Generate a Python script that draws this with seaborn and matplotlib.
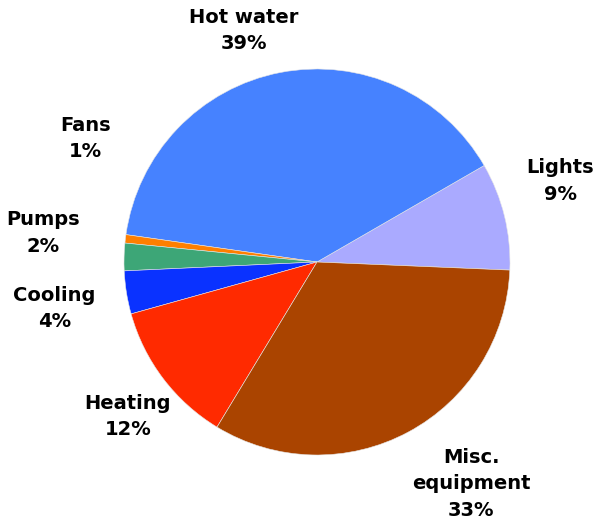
import matplotlib
matplotlib.use("Agg")
import matplotlib.pyplot as plt
import seaborn as sns

# data (counterclockwise from the right)
categories = ["Lights", "Hot water", "Fans", "Pumps", "Cooling", "Heating", "Misc.\nequipment"]
shares = [9.0, 39.4, 0.7, 2.3, 3.6, 12.0, 33.0]
pct_labels = ["9%", "39%", "1%", "2%", "4%", "12%", "33%"]
colors = ["#AAAAFF", "#4682FF", "#FF7F00", "#3DA677", "#0A32FF", "#FF2A00", "#AA4400"]

# label anchor points (data units, pie radius = 1)
label_pos = [(1.26, 0.42), (-0.38, 1.20), (-1.20, 0.64), (-1.42, 0.15),
             (-1.36, -0.24), (-0.98, -0.80), (0.80, -1.15)]

sns.set_theme(style="white")
plt.rcParams["font.family"] = ["DejaVu Sans"]

fig = plt.figure(figsize=(6.02, 5.31), dpi=100)
ax = fig.add_axes([124 / 602, 76 / 531, 386 / 602, 386 / 531])

ax.pie(shares, colors=colors, startangle=-2.4, counterclock=True,
       wedgeprops=dict(edgecolor="#e6e6e6", linewidth=0.4))
ax.set_xlim(-1, 1)
ax.set_ylim(-1, 1)
ax.set_aspect("equal")
ax.axis("off")

for name, pct, (x, y) in zip(categories, pct_labels, label_pos):
    ax.text(x, y, f"{name}\n{pct}", ha="center", va="center",
            fontsize=14, fontweight="bold", color="black", linespacing=1.5)

fig.savefig("out.png", dpi=100)
